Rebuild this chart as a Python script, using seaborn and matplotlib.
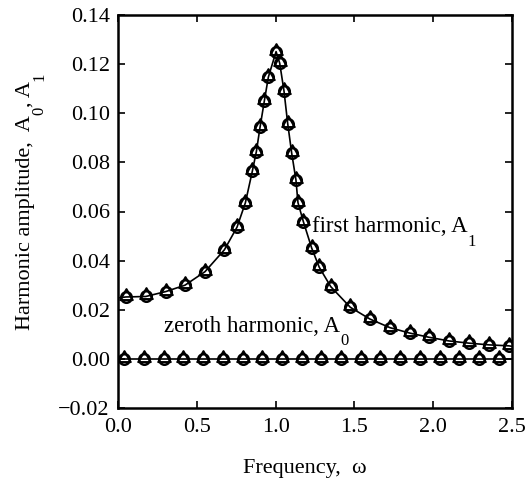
import numpy as np
import pandas as pd
import matplotlib
matplotlib.use("Agg")
import matplotlib.pyplot as plt
from matplotlib.path import Path
import seaborn as sns

# First harmonic A1: sampled points
a1_freq = [0.049, 0.176, 0.303, 0.425, 0.552, 0.675, 0.755, 0.808, 0.852, 0.878,
           0.901, 0.928, 0.954, 1.003, 1.026, 1.053, 1.077, 1.102, 1.129, 1.142,
           1.176, 1.229, 1.277, 1.350, 1.474, 1.599, 1.726, 1.851, 1.973, 2.100,
           2.227, 2.354, 2.481]
a1_amp = [0.0252, 0.0254, 0.0274, 0.0300, 0.0355, 0.0444, 0.0536, 0.0635, 0.0763, 0.0844,
          0.0942, 0.1048, 0.1147, 0.1251, 0.1204, 0.1092, 0.0957, 0.0838, 0.0729, 0.0636,
          0.0559, 0.0451, 0.0373, 0.0294, 0.0210, 0.0162, 0.0127, 0.0105, 0.0088, 0.0073,
          0.0064, 0.0057, 0.0053]

# Zeroth harmonic A0: sampled points
a0_freq = [0.04, 0.165, 0.29, 0.415, 0.54, 0.665, 0.79, 0.915, 1.04, 1.165,
           1.29, 1.415, 1.54, 1.665, 1.79, 1.915, 2.04, 2.165, 2.29, 2.415]
a0_amp = [0.0] * 20

# Curve end values at the frequency limits
edge_freq = [0.0, 2.5]
a1_edge = [0.0248, 0.0051]
a0_edge = [0.0, 0.0]

x_ticks = [0.0, 0.5, 1.0, 1.5, 2.0, 2.5]
x_ticklabels = ["0.0", "0.5", "1.0", "1.5", "2.0", "2.5"]
y_ticks = [-0.02, 0.0, 0.02, 0.04, 0.06, 0.08, 0.10, 0.12, 0.14]
y_ticklabels = ["\u22120.02", "0.00", "0.02", "0.04", "0.06", "0.08", "0.10", "0.12", "0.14"]

sns.set_theme(style="ticks")
plt.rcParams["font.family"] = ["Liberation Serif", "DejaVu Serif"]
for key in ("text.color", "axes.labelcolor", "xtick.color", "ytick.color"):
    plt.rcParams[key] = "black"

W, H = 527, 478
fig = plt.figure(figsize=(W / 100, H / 100), dpi=100)
ax = fig.add_axes([118 / W, 1 - 408 / H, 394 / W, 393 / H])

line_a1 = pd.DataFrame({"freq": [edge_freq[0]] + a1_freq + [edge_freq[1]],
                        "amp": [a1_edge[0]] + a1_amp + [a1_edge[1]]})
line_a0 = pd.DataFrame({"freq": [edge_freq[0]] + a0_freq + [edge_freq[1]],
                        "amp": [a0_edge[0]] + a0_amp + [a0_edge[1]]})
pts_a1 = pd.DataFrame({"freq": a1_freq, "amp": a1_amp})
pts_a0 = pd.DataFrame({"freq": a0_freq, "amp": a0_amp})

for df in (line_a1, line_a0):
    sns.lineplot(data=df, x="freq", y="amp", ax=ax, color="black",
                 linewidth=1.2, sort=False, estimator=None)

# open triangle sitting high on an open circle (bell-shaped symbol)
tri = Path([(0, 8.7), (-6.5, -2.7), (6.5, -2.7), (0, 8.7)],
           [Path.MOVETO, Path.LINETO, Path.LINETO, Path.CLOSEPOLY])
for df in (pts_a1, pts_a0):
    sns.lineplot(data=df, x="freq", y="amp", ax=ax, color="black", linestyle="",
                 marker="o", markersize=7.6, markerfacecolor="none",
                 markeredgecolor="black", markeredgewidth=1.8,
                 sort=False, estimator=None)
    sns.lineplot(data=df, x="freq", y="amp", ax=ax, color="black", linestyle="",
                 marker=tri, markersize=12.0, markerfacecolor="none",
                 markeredgecolor="black", markeredgewidth=1.5,
                 sort=False, estimator=None)

ax.set_xlim(0, 2.5)
ax.set_ylim(-0.02, 0.14)
ax.set_xticks(x_ticks)
ax.set_xticklabels(x_ticklabels)
ax.set_yticks(y_ticks)
ax.set_yticklabels(y_ticklabels)
ax.tick_params(direction="in", length=5, width=1.2, top=True, right=True,
               labelsize=16, colors="black")
ax.tick_params(axis="x", pad=7)
ax.tick_params(axis="y", pad=6)
ax.set_xlabel("")
ax.set_ylabel("")
for s in ax.spines.values():
    s.set_visible(True)
    s.set_linewidth(1.8)
    s.set_color("black")

renderer = fig.canvas.get_renderer()


def sub_text(pieces, x_px, y_px, size, sub_size, drop, rotation=0):
    """Write text pieces one after another from a baseline anchor given in
    figure pixels; pieces flagged True are lowered subscripts."""
    for s, is_sub in pieces:
        if rotation == 0:
            px, py = x_px, y_px - (drop if is_sub else 0)
        else:
            px, py = x_px + (drop if is_sub else 0), y_px
        t = fig.text(px / W, py / H, s, fontsize=sub_size if is_sub else size,
                     rotation=rotation, rotation_mode="anchor",
                     ha="left", va="baseline")
        bb = t.get_window_extent(renderer)
        if rotation == 0:
            x_px += bb.width
        else:
            y_px += bb.height


def data_px(x, y):
    return ax.transData.transform((x, y))


fig.canvas.draw()
x0, y0 = data_px(1.229, 0.0518)
sub_text([("first harmonic, A", False), ("1", True)], x0, y0, 16.5, 12, 14)
x0, y0 = data_px(0.294, 0.0111)
sub_text([("zeroth harmonic, A", False), ("0", True)], x0, y0, 16.5, 12, 13)

# axis titles
fig.text(305 / W, 1 - 469 / H, "Frequency,  \u03c9", fontsize=16,
         ha="center", va="center")
sub_text([("Harmonic amplitude,  A", False), ("0", True), (", A", False), ("1", True)],
         30, H - 330, 16, 12, 13, rotation=90)

fig.savefig("out.png", dpi=100, facecolor="white")
